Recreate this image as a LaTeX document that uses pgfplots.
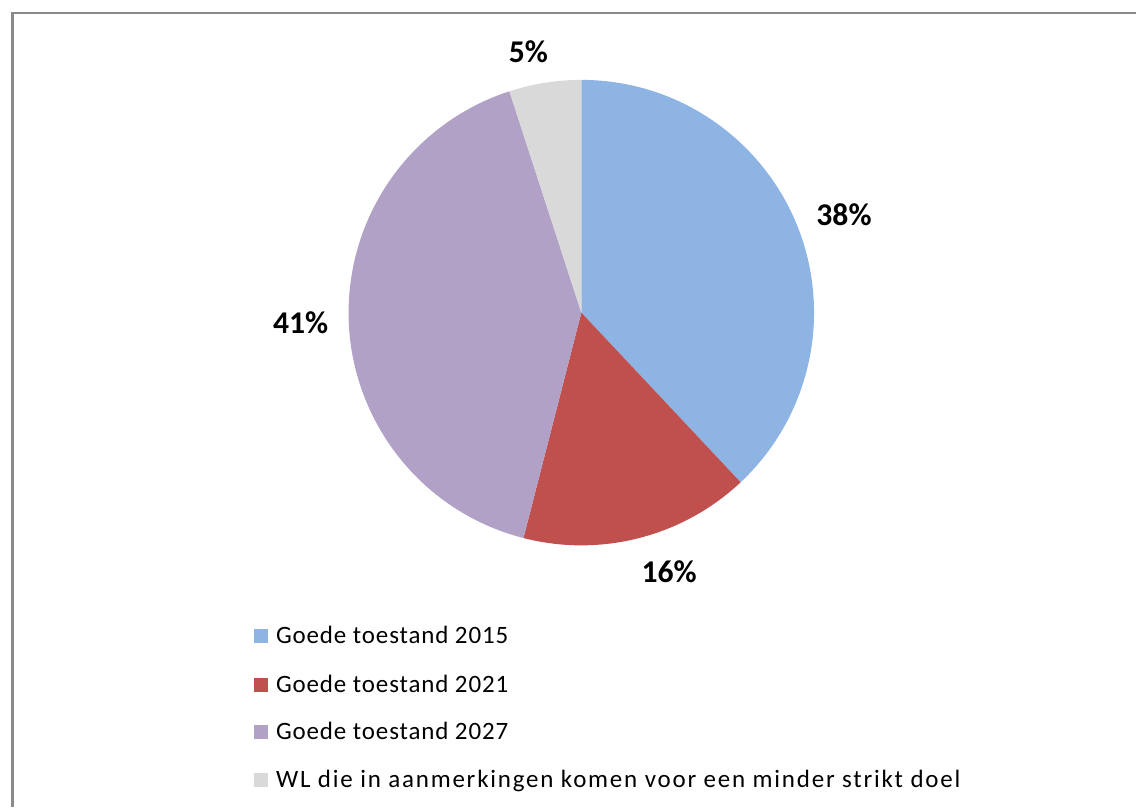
\documentclass[border=0pt]{standalone}
\usepackage{pgfplots}
\pgfplotsset{compat=1.18}
\usepackage{fontspec}
\setmainfont{Carlito}
\newfontfamily\legA[LetterSpace=3.5]{Carlito}
\newfontfamily\legB[LetterSpace=7.2]{Carlito}
\definecolor{cblue}{HTML}{8EB4E3}
\definecolor{cred}{HTML}{C0504D}
\definecolor{cpurple}{HTML}{B2A1C7}
\definecolor{cgray}{HTML}{D9D9D9}
\definecolor{frame}{HTML}{8A8A8A}
\newcommand\labelfont{\fontsize{19}{20}\selectfont\bfseries}
\newcommand\legfont{\fontsize{15}{17}\selectfont}
\begin{document}
\begin{tikzpicture}
\begin{axis}[x=0.6pt,y=0.6pt,xmin=0,xmax=1137,ymin=0,ymax=808,hide axis,clip=false]
\path (axis cs:0,0) rectangle (axis cs:1137,808);
\draw[color=frame,line width=1.6pt] (axis cs:12.5,0) -- (axis cs:12.5,795) -- (axis cs:1137,795);
% pie: values 38, 16, 41, 5 (percent), clockwise from top
\fill[cblue] (axis cs:582,495) -- ++(90:139.8pt) arc[start angle=90,end angle={90-3.6*38},radius=139.8pt] -- cycle;
\fill[cred] (axis cs:582,495) -- ++({90-3.6*38}:139.8pt) arc[start angle={90-3.6*38},end angle={90-3.6*(38+16)},radius=139.8pt] -- cycle;
\fill[cpurple] (axis cs:582,495) -- ++({90-3.6*(38+16)}:139.8pt) arc[start angle={90-3.6*(38+16)},end angle={90-3.6*(38+16+41)},radius=139.8pt] -- cycle;
\fill[cgray] (axis cs:582,495) -- ++({90-3.6*(38+16+41)}:139.8pt) arc[start angle={90-3.6*(38+16+41)},end angle={90-3.6*(38+16+41+5)},radius=139.8pt] -- cycle;
% data labels
\node[font=\labelfont,inner sep=0pt] at (axis cs:845,593) {38\%};
\node[font=\labelfont,inner sep=0pt] at (axis cs:670,236) {16\%};
\node[font=\labelfont,inner sep=0pt] at (axis cs:301,485) {41\%};
\node[font=\labelfont,inner sep=0pt] at (axis cs:529,756.5) {5\%};
% legend
\fill[cblue] (axis cs:254,164) rectangle (axis cs:268,178);
\node[font=\legA\legfont,anchor=base west,inner sep=0pt] at (axis cs:276,164) {Goede toestand 2015};
\fill[cred] (axis cs:254,115) rectangle (axis cs:268,129);
\node[font=\legA\legfont,anchor=base west,inner sep=0pt] at (axis cs:276,115) {Goede toestand 2021};
\fill[cpurple] (axis cs:254,68) rectangle (axis cs:268,82);
\node[font=\legA\legfont,anchor=base west,inner sep=0pt] at (axis cs:276,68) {Goede toestand 2027};
\fill[cgray] (axis cs:254,20) rectangle (axis cs:268,34);
\node[font=\legB\legfont,anchor=base west,inner sep=0pt] at (axis cs:276,20) {WL die in aanmerkingen komen voor een minder strikt doel};
\end{axis}
\end{tikzpicture}
\end{document}
